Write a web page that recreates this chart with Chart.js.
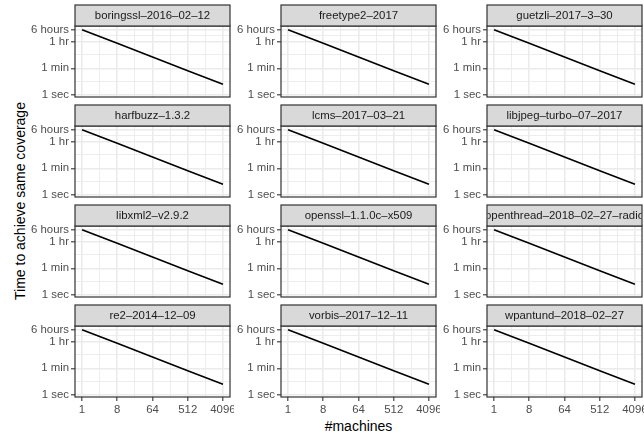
<!DOCTYPE html>
<html><head><meta charset="utf-8">
<script src="https://cdn.jsdelivr.net/npm/chart.js@4/dist/chart.umd.min.js"></script>
<style>
html,body{margin:0;padding:0;background:#fff;}
body{width:644px;height:433px;position:relative;overflow:hidden;font-family:"Liberation Sans",Arial,sans-serif;}
canvas{position:absolute;}
.axt{position:absolute;font-size:14px;line-height:16px;color:#000;white-space:nowrap;}
</style></head><body>
<div id="xt" class="axt" style="left:358.5px;top:418px;transform:translateX(-50%);">#machines</div>
<div id="yt" class="axt" style="left:20px;top:201px;transform:translate(-50%,-50%) rotate(-90deg);">Time to achieve same coverage</div>
<script>
// ---- data ----
const panelNames = [
  'boringssl–2016–02–12', 'freetype2–2017', 'guetzli–2017–3–30',
  'harfbuzz–1.3.2', 'lcms–2017–03–21', 'libjpeg–turbo–07–2017',
  'libxml2–v2.9.2', 'openssl–1.1.0c–x509', 'openthread–2018–02–27–radio',
  're2–2014–12–09', 'vorbis–2017–12–11', 'wpantund–2018–02–27'
];
const machines = [1, 8, 64, 512, 4096];
const timeSeconds = [21600, 2700, 337.5, 42.2, 5.27];
const xTickValues = [1, 8, 64, 512, 4096];
const xTickLabels = ['1', '8', '64', '512', '4096'];
const xMinorValues = [2.83, 22.6, 181, 1448];
const yTickValues = [1, 60, 3600, 21600];
const yTickLabels = ['1 sec', '1 min', '1 hr', '6 hours'];
const yMinorValues = [7.75, 465, 8818];

// ---- layout ----
const colLeft = [75, 281, 487];
const stripTop = [5, 105, 205, 305];
const plotW = 155, plotH = 71, stripH = 21, yAxisW = 60;
const FONT = '"Liberation Sans", Arial, sans-serif';

function makeTicks(major, minor){
  const t = major.map(v => ({value: v, isMinor: false}))
    .concat(minor.map(v => ({value: v, isMinor: true})));
  t.sort((a,b) => a.value - b.value);
  return t;
}
function labelFor(vals, labels){
  return (v) => { const i = vals.indexOf(v); return i >= 0 ? labels[i] : ''; };
}

const facetPlugin = {
  id: 'facet',
  afterDraw(chart, args, opts){
    const ctx = chart.ctx, a = chart.chartArea;
    ctx.save();
    ctx.strokeStyle = '#333333';
    ctx.lineWidth = 1.2;
    ctx.strokeRect(a.left, a.top, a.right - a.left, a.bottom - a.top);
    const sTop = a.top - stripH;
    ctx.fillStyle = '#d9d9d9';
    ctx.fillRect(a.left, sTop, a.right - a.left, stripH);
    ctx.strokeRect(a.left, sTop, a.right - a.left, stripH);
    ctx.beginPath();
    ctx.rect(a.left + 0.6, sTop, a.right - a.left - 1.2, stripH);
    ctx.clip();
    ctx.fillStyle = '#1a1a1a';
    ctx.font = '11.4px ' + FONT;
    ctx.textAlign = 'center';
    ctx.textBaseline = 'middle';
    ctx.fillText(opts.title, (a.left + a.right) / 2, sTop + stripH / 2 + 0.5);
    ctx.restore();
  }
};

panelNames.forEach((name, idx) => {
  const r = Math.floor(idx / 3), c = idx % 3;
  const bottomRow = r === 3;
  const xAxisH = bottomRow ? 22 : 0;
  const padBottom = bottomRow ? 0 : 3;
  const cv = document.createElement('canvas');
  const W = yAxisW + plotW + 4;
  const H = 1 + stripH + plotH + xAxisH + padBottom;
  cv.width = W; cv.height = H;
  cv.style.left = (colLeft[c] - yAxisW) + 'px';
  cv.style.top = (stripTop[r] - 1) + 'px';
  cv.style.width = W + 'px'; cv.style.height = H + 'px';
  document.body.appendChild(cv);

  const gridCommon = {
    color: '#ebebeb',
    lineWidth: (ctx) => (ctx.tick && ctx.tick.isMinor) ? 0.9 : 1.6,
    tickColor: (ctx) => (ctx.tick && ctx.tick.isMinor) ? 'rgba(0,0,0,0)' : '#333333',
    tickWidth: 1.1,
    tickLength: 4
  };

  new Chart(cv, {
    type: 'line',
    data: {
      datasets: [{
        data: machines.map((m, i) => ({x: m, y: timeSeconds[i]})),
        borderColor: '#000000',
        borderWidth: 1.6,
        pointRadius: 0,
        tension: 0,
        fill: false
      }]
    },
    options: {
      responsive: false,
      animation: false,
      devicePixelRatio: 1,
      layout: {padding: {left: 0, top: 1 + stripH, right: 4, bottom: padBottom}},
      plugins: {legend: {display: false}, tooltip: {enabled: false}, title: {display: false},
        facet: {title: name}},
      scales: {
        x: {
          type: 'logarithmic',
          min: 0.66, max: 6208,
          bounds: 'data',
          border: {display: false},
          grid: Object.assign({}, gridCommon, {drawTicks: bottomRow}),
          afterBuildTicks: (s) => { s.ticks = makeTicks(xTickValues, xMinorValues); },
          afterFit: (s) => { s.height = xAxisH; s.paddingLeft = 0; s.paddingRight = 0; s.paddingTop = 0; s.paddingBottom = 0; },
          ticks: {
            display: bottomRow,
            autoSkip: false, maxRotation: 0, minRotation: 0,
            padding: 2,
            color: '#4d4d4d',
            font: {family: FONT, size: 11.4},
            callback: labelFor(xTickValues, xTickLabels)
          }
        },
        y: {
          type: 'logarithmic',
          min: 0.76, max: 38000,
          bounds: 'data',
          border: {display: false},
          grid: Object.assign({}, gridCommon, {drawTicks: true}),
          afterBuildTicks: (s) => { s.ticks = makeTicks(yTickValues, yMinorValues); },
          afterFit: (s) => { s.width = yAxisW; s.paddingLeft = 0; s.paddingRight = 0; s.paddingTop = 0; s.paddingBottom = 0; },
          ticks: {
            autoSkip: false,
            padding: 2,
            color: '#4d4d4d',
            font: {family: FONT, size: 11.4},
            callback: labelFor(yTickValues, yTickLabels)
          }
        }
      }
    },
    plugins: [facetPlugin]
  });
});
</script>
</body></html>
